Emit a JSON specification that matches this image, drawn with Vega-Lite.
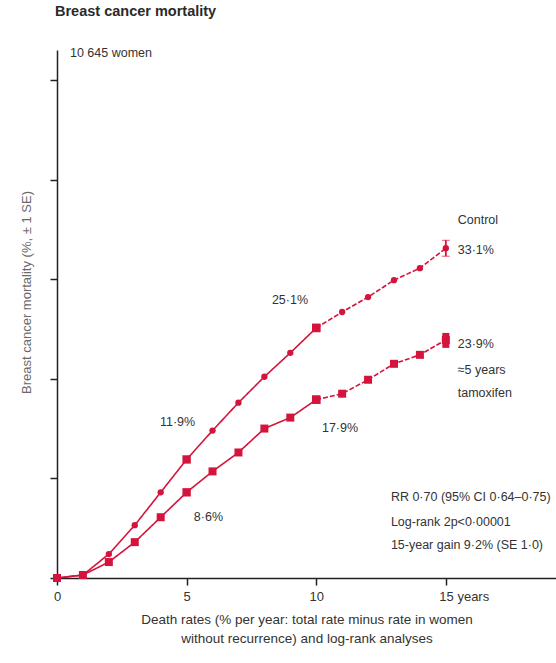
{
  "$schema": "https://vega.github.io/schema/vega-lite/v6.json",
  "autosize": {"type": "none"},
  "padding": {"left": 57, "top": 50, "right": 0, "bottom": 85},
  "width": 499,
  "height": 528,
  "background": "white",
  "title": {
    "text": "Breast cancer mortality",
    "anchor": "start",
    "frame": "group",
    "offset": 27,
    "dx": -2,
    "font": "Liberation Sans",
    "fontSize": 14.5,
    "fontWeight": "bold",
    "color": "#2a2a2a"
  },
  "config": {
    "view": {"stroke": null},
    "font": "Liberation Sans",
    "text": {"font": "Liberation Sans"}
  },
  "datasets": {
    "curves": [
      {"series": "Control", "year": 0, "mortality": 0, "segment": "early"},
      {"series": "Control", "year": 1, "mortality": 0.3, "segment": "early"},
      {"series": "Control", "year": 2, "mortality": 2.4, "segment": "early"},
      {"series": "Control", "year": 3, "mortality": 5.3, "segment": "early"},
      {"series": "Control", "year": 4, "mortality": 8.6, "segment": "early"},
      {"series": "Control", "year": 5, "mortality": 11.9, "segment": "early"},
      {"series": "Control", "year": 6, "mortality": 14.8, "segment": "early"},
      {"series": "Control", "year": 7, "mortality": 17.6, "segment": "early"},
      {"series": "Control", "year": 8, "mortality": 20.2, "segment": "early"},
      {"series": "Control", "year": 9, "mortality": 22.6, "segment": "early"},
      {"series": "Control", "year": 10, "mortality": 25.1, "segment": "early"},
      {"series": "Control", "year": 10, "mortality": 25.1, "segment": "late"},
      {"series": "Control", "year": 11, "mortality": 26.7, "segment": "late"},
      {"series": "Control", "year": 12, "mortality": 28.2, "segment": "late"},
      {"series": "Control", "year": 13, "mortality": 29.9, "segment": "late"},
      {"series": "Control", "year": 14, "mortality": 31.1, "segment": "late"},
      {"series": "Control", "year": 15, "mortality": 33.1, "segment": "late"},
      {"series": "Tamoxifen", "year": 0, "mortality": 0, "segment": "early"},
      {"series": "Tamoxifen", "year": 1, "mortality": 0.3, "segment": "early"},
      {"series": "Tamoxifen", "year": 2, "mortality": 1.6, "segment": "early"},
      {"series": "Tamoxifen", "year": 3, "mortality": 3.6, "segment": "early"},
      {"series": "Tamoxifen", "year": 4, "mortality": 6.1, "segment": "early"},
      {"series": "Tamoxifen", "year": 5, "mortality": 8.6, "segment": "early"},
      {"series": "Tamoxifen", "year": 6, "mortality": 10.7, "segment": "early"},
      {"series": "Tamoxifen", "year": 7, "mortality": 12.6, "segment": "early"},
      {"series": "Tamoxifen", "year": 8, "mortality": 15.0, "segment": "early"},
      {"series": "Tamoxifen", "year": 9, "mortality": 16.1, "segment": "early"},
      {"series": "Tamoxifen", "year": 10, "mortality": 17.9, "segment": "early"},
      {"series": "Tamoxifen", "year": 10, "mortality": 17.9, "segment": "late"},
      {"series": "Tamoxifen", "year": 11, "mortality": 18.5, "segment": "late"},
      {"series": "Tamoxifen", "year": 12, "mortality": 19.9, "segment": "late"},
      {"series": "Tamoxifen", "year": 13, "mortality": 21.5, "segment": "late"},
      {"series": "Tamoxifen", "year": 14, "mortality": 22.4, "segment": "late"},
      {"series": "Tamoxifen", "year": 15, "mortality": 23.9, "segment": "late"}
    ],
    "errors": [
      {"series": "Control", "year": 15, "lo": 32.3, "hi": 33.9},
      {"series": "Tamoxifen", "year": 15, "lo": 23.1, "hi": 24.6}
    ],
    "labels": [
      {"x": 15.46, "y": 35.9, "text": "Control"},
      {"x": 15.46, "y": 32.9, "text": "33·1%"},
      {"x": 15.46, "y": 23.5, "text": "23·9%"},
      {"x": 15.46, "y": 20.9, "text": "≈5 years"},
      {"x": 15.46, "y": 18.6, "text": "tamoxifen"},
      {"x": 8.29, "y": 27.9, "text": "25·1%"},
      {"x": 3.97, "y": 15.7, "text": "11·9%"},
      {"x": 10.22, "y": 15.1, "text": "17·9%"},
      {"x": 5.28, "y": 6.1, "text": "8·6%"},
      {"x": 12.88, "y": 8.1, "text": "RR 0·70 (95% CI 0·64–0·75)"},
      {"x": 12.88, "y": 5.6, "text": "Log-rank 2p<0·00001"},
      {"x": 12.88, "y": 3.3, "text": "15-year gain 9·2% (SE 1·0)"},
      {"x": 0.5, "y": 52.7, "text": "10 645 women"}
    ]
  },
  "layer": [
    {
      "data": {"name": "curves"},
      "mark": {"type": "line", "color": "#d4143c", "strokeWidth": 1.6},
      "encoding": {
        "x": {
          "field": "year", "type": "quantitative",
          "scale": {"domain": [0, 19.25], "nice": false, "zero": false},
          "axis": {
            "values": [0, 5, 10, 15],
            "title": ["Death rates (% per year: total rate minus rate in women", "without recurrence) and log-rank analyses"],
            "titleFont": "Liberation Sans",
            "titleFontSize": 13.5,
            "titleFontWeight": "normal",
            "titleColor": "#333",
            "titleLineHeight": 19,
            "titlePadding": 9,
            "labelFont": "Liberation Sans",
            "labelFontSize": 13,
            "labelColor": "#333",
            "labelPadding": 5,
            "labelExpr": "datum.value == 15 ? '15 years' : datum.label",
            "labelAlign": {"condition": {"test": "datum.value == 15", "value": "left"}, "value": "center"},
            "labelOffset": {"condition": {"test": "datum.value == 15", "value": -7}, "value": 0},
            "labelFlush": false,
            "domainColor": "#222",
            "domainWidth": 1.5,
            "tickColor": "#222",
            "tickWidth": 1.5,
            "tickSize": 7,
            "grid": false
          }
        },
        "y": {
          "field": "mortality", "type": "quantitative",
          "title": "Breast cancer mortality (%, ± 1 SE)",
          "scale": {"domain": [0, 53], "nice": false},
          "axis": {
            "values": [0, 10, 20, 30, 40, 50],
            "labels": false,
            "titleFont": "Liberation Sans",
            "titleFontSize": 13,
            "titleFontWeight": "normal",
            "titleColor": "#6a6a6a",
            "titleAngle": -90,
            "titleX": -31,
            "titleY": 242,
            "titleAlign": "center",
            "titleBaseline": "middle",
            "domainColor": "#222",
            "domainWidth": 1.5,
            "tickColor": "#222",
            "tickWidth": 1.5,
            "tickSize": 7,
            "grid": false
          }
        },
        "detail": {"field": "series"},
        "strokeDash": {
          "field": "segment", "type": "nominal",
          "scale": {"domain": ["early", "late"], "range": [[1, 0], [5, 2]]},
          "legend": null
        }
      }
    },
    {
      "data": {"name": "curves"},
      "mark": {"type": "point", "filled": true, "color": "#d4143c", "opacity": 1},
      "encoding": {
        "x": {"field": "year", "type": "quantitative"},
        "y": {"field": "mortality", "type": "quantitative", "title": "Breast cancer mortality (%, ± 1 SE)"},
        "shape": {
          "condition": {"test": "datum.year == 5 || datum.year == 10", "value": "square"},
          "field": "series", "type": "nominal",
          "scale": {"domain": ["Control", "Tamoxifen"], "range": ["circle", "square"]},
          "legend": null
        },
        "size": {
          "condition": {"test": "datum.year == 5 || datum.year == 10", "value": 70},
          "field": "series", "type": "nominal",
          "scale": {"domain": ["Control", "Tamoxifen"], "range": [40, 64]},
          "legend": null
        }
      }
    },
    {
      "data": {"name": "errors"},
      "transform": [{"filter": "datum.series == 'Control'"}],
      "mark": {"type": "errorbar", "color": "#d4143c", "ticks": {"size": 8, "color": "#d4143c", "strokeWidth": 1.5}, "rule": {"strokeWidth": 1.8}},
      "encoding": {
        "x": {"field": "year", "type": "quantitative"},
        "y": {"field": "lo", "type": "quantitative", "title": "Breast cancer mortality (%, ± 1 SE)"},
        "y2": {"field": "hi"}
      }
    },
    {
      "data": {"name": "errors"},
      "transform": [{"filter": "datum.series == 'Tamoxifen'"}],
      "mark": {"type": "rule", "color": "#d4143c", "strokeWidth": 7},
      "encoding": {
        "x": {"field": "year", "type": "quantitative"},
        "y": {"field": "lo", "type": "quantitative", "title": "Breast cancer mortality (%, ± 1 SE)"},
        "y2": {"field": "hi"}
      }
    },
    {
      "data": {"name": "labels"},
      "mark": {"type": "text", "align": "left", "baseline": "middle", "fontSize": 12.5, "color": "#333", "font": "Liberation Sans"},
      "encoding": {
        "x": {"field": "x", "type": "quantitative"},
        "y": {"field": "y", "type": "quantitative", "title": "Breast cancer mortality (%, ± 1 SE)"},
        "text": {"field": "text"}
      }
    }
  ]
}
